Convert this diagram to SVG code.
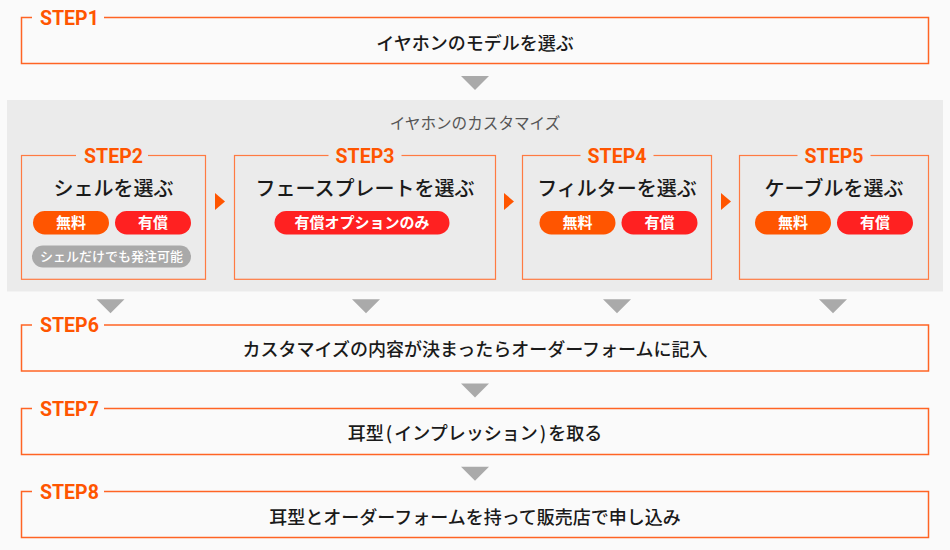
<svg xmlns="http://www.w3.org/2000/svg" width="950" height="550" viewBox="0 0 950 550">
<style>
.box{fill:none;stroke:#ff6424;stroke-width:1.5}
.ibox{fill:none;stroke:#ff7a42;stroke-width:1.2}
.step{font-family:Roboto,"Noto Sans CJK JP",sans-serif;font-weight:bold;font-size:19.5px;fill:#ff5500}
.main{font-family:"Noto Sans CJK JP",sans-serif;font-size:18px;font-weight:500;fill:#1a1a1a;text-anchor:middle}
.title{font-family:"Noto Sans CJK JP",sans-serif;font-size:20px;font-weight:500;fill:#1a1a1a;text-anchor:middle}
.pill{font-family:"Noto Sans CJK JP",sans-serif;font-size:15px;font-weight:bold;fill:#fff;text-anchor:middle}
.note{font-family:"Noto Sans CJK JP",sans-serif;font-size:13px;font-weight:500;fill:#fff;text-anchor:middle}
.free{fill:#ff5500}
.paid{fill:#ff2121}
.gray{fill:#a9a9a9}
.down{fill:#aaaaaa}
.right{fill:#ff5500}
</style>
<rect x="0" y="0" width="950" height="550" fill="#fafafa"/>
<g id="panel">
<rect x="7" y="100" width="936" height="191.5" fill="#ebebeb"/>
<text x="475" y="128.5" font-family="'Noto Sans CJK JP',sans-serif" font-size="15.6px" fill="#555" text-anchor="middle">イヤホンのカスタマイズ</text>
</g>
<g id="connectors">
<polygon class="down" points="461,76 489,76 475,90"/>
<polygon class="right" points="215,193 225,201.5 215,210"/>
<polygon class="right" points="504,193 514,201.5 504,210"/>
<polygon class="right" points="721,193 731,201.5 721,210"/>
<polygon class="down" points="96.5,299.3 124.5,299.3 110.5,313.3"/>
<polygon class="down" points="352,299.3 380,299.3 366,313.3"/>
<polygon class="down" points="603,299.3 631,299.3 617,313.3"/>
<polygon class="down" points="819,299.3 847,299.3 833,313.3"/>
<polygon class="down" points="461,383.5 489,383.5 475,397.5"/>
<polygon class="down" points="461,466.7 489,466.7 475,480.7"/>
</g>
<g id="step1">
<rect class="box" x="21.5" y="17.5" width="907" height="46"/>
<rect x="32" y="10" width="72" height="15" fill="#fafafa"/>
<text class="step" x="40" y="24.5">STEP1</text>
<text class="main" x="475" y="50">イヤホンのモデルを選ぶ</text>
</g>
<g id="step2">
<rect class="ibox" x="21.5" y="155.5" width="184" height="123.8"/>
<rect x="76" y="148" width="72" height="15" fill="#ebebeb"/>
<text class="step" x="113.5" y="163.3" text-anchor="middle">STEP2</text>
<text class="title" x="113.5" y="195.5">シェルを選ぶ</text>
<rect class="free" x="33" y="211" width="76" height="23.5" rx="11.75"/>
<text class="pill" x="71" y="228">無料</text>
<rect class="paid" x="115" y="211" width="76" height="23.5" rx="11.75"/>
<text class="pill" x="153" y="228">有償</text>
<rect class="gray" x="32" y="245.5" width="159" height="22" rx="11"/>
<text class="note" x="111.5" y="261">シェルだけでも発注可能</text>
</g>
<g id="step3">
<rect class="ibox" x="234.5" y="155.5" width="261" height="123.8"/>
<rect x="328.5" y="148" width="73" height="15" fill="#ebebeb"/>
<text class="step" x="365" y="163.3" text-anchor="middle">STEP3</text>
<text class="title" x="365" y="195.5">フェースプレートを選ぶ</text>
<rect class="paid" x="274.5" y="211" width="175" height="23.5" rx="11.75"/>
<text class="pill" x="362" y="228">有償オプションのみ</text>
</g>
<g id="step4">
<rect class="ibox" x="522.5" y="155.5" width="189" height="123.8"/>
<rect x="580.5" y="148" width="73" height="15" fill="#ebebeb"/>
<text class="step" x="617" y="163.3" text-anchor="middle">STEP4</text>
<text class="title" x="617" y="195.5">フィルターを選ぶ</text>
<rect class="free" x="539.5" y="211" width="76" height="23.5" rx="11.75"/>
<text class="pill" x="577.5" y="228">無料</text>
<rect class="paid" x="621.5" y="211" width="76" height="23.5" rx="11.75"/>
<text class="pill" x="659.5" y="228">有償</text>
</g>
<g id="step5">
<rect class="ibox" x="739.5" y="155.5" width="189" height="123.8"/>
<rect x="797.5" y="148" width="73" height="15" fill="#ebebeb"/>
<text class="step" x="834" y="163.3" text-anchor="middle">STEP5</text>
<text class="title" x="834" y="195.5">ケーブルを選ぶ</text>
<rect class="free" x="755" y="211" width="76" height="23.5" rx="11.75"/>
<text class="pill" x="793" y="228">無料</text>
<rect class="paid" x="837" y="211" width="76" height="23.5" rx="11.75"/>
<text class="pill" x="875" y="228">有償</text>
</g>
<g id="step6">
<rect class="box" x="21.5" y="325" width="907" height="46"/>
<rect x="32" y="317.5" width="72" height="15" fill="#fafafa"/>
<text class="step" x="40" y="332">STEP6</text>
<text class="main" x="475" y="356">カスタマイズの内容が決まったらオーダーフォームに記入</text>
</g>
<g id="step7">
<rect class="box" x="21.5" y="408.5" width="907" height="46"/>
<rect x="32" y="401" width="72" height="15" fill="#fafafa"/>
<text class="step" x="40" y="415.5">STEP7</text>
<text class="main" x="475" y="440" word-spacing="0">耳型<tspan dx="2">(</tspan><tspan dx="2">インプレッション</tspan><tspan dx="2">)</tspan><tspan dx="2">を取る</tspan></text>
</g>
<g id="step8">
<rect class="box" x="21.5" y="491.5" width="907" height="46"/>
<rect x="32" y="484" width="72" height="15" fill="#fafafa"/>
<text class="step" x="40" y="498.5">STEP8</text>
<text class="main" x="475" y="523.5">耳型とオーダーフォームを持って販売店で申し込み</text>
</g>
</svg>
